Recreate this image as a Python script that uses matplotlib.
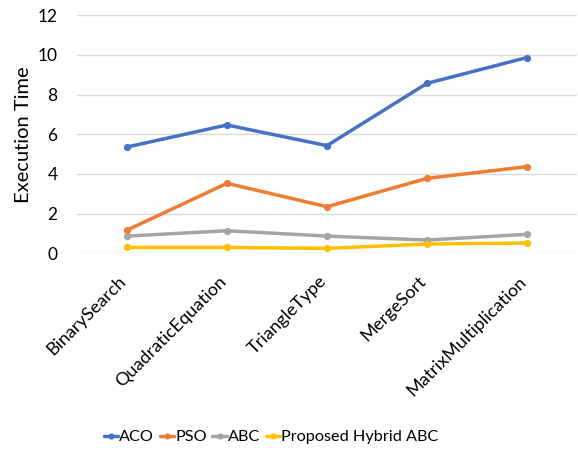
import matplotlib.pyplot as plt
from matplotlib.transforms import ScaledTranslation

plt.rcParams['font.family'] = ['Lato', 'DejaVu Sans']

programs = ['BinarySearch', 'QuadraticEquation', 'TriangleType', 'MergeSort', 'MatrixMultiplication']
aco = [5.36, 6.47, 5.43, 8.57, 9.87]
pso = [1.17, 3.53, 2.35, 3.78, 4.37]
abc = [0.87, 1.14, 0.87, 0.67, 0.96]
hybrid = [0.30, 0.30, 0.25, 0.47, 0.52]

series = [
    ('ACO', aco, '#4472C4'),
    ('PSO', pso, '#ED7D31'),
    ('ABC', abc, '#A5A5A5'),
    ('Proposed Hybrid ABC', hybrid, '#FFC000'),
]

fig = plt.figure(figsize=(5.78, 4.5), dpi=100)
ax = fig.add_axes([0.1332, 0.437, 0.865, 0.529])

x = list(range(len(programs)))
for name, vals, col in series:
    ax.plot(x, vals, color=col, lw=2.5, marker='o', ms=4.2, label=name,
            solid_capstyle='round')

ax.set_xlim(-0.5, len(programs) - 0.5)
ax.set_ylim(0, 12)
ax.set_yticks(range(0, 13, 2))
ax.grid(axis='y', color='#D9D9D9', lw=1)
ax.set_axisbelow(True)
for s in ax.spines.values():
    s.set_visible(False)
ax.tick_params(length=0, labelsize=12.5, colors='black')
ax.tick_params(axis='y', pad=14)
ax.set_xticks(x)
ax.set_xticklabels(programs, rotation=45, ha='right', va='top',
                   rotation_mode='anchor', fontsize=13)
# drop the slanted labels a little below the plot area
shift = ScaledTranslation(-9 / 100, -15 / 100, fig.dpi_scale_trans)
for lbl in ax.get_xticklabels():
    lbl.set_transform(lbl.get_transform() + shift)
ax.set_ylabel('Execution Time', fontsize=14.5, labelpad=4)

ax.legend(loc='center', bbox_to_anchor=(0.388, -0.772), ncol=4, frameon=False,
          fontsize=11.7, handlelength=0.9, handletextpad=0.05, columnspacing=0.35,
          markerscale=0.8)

fig.savefig('out.png')
